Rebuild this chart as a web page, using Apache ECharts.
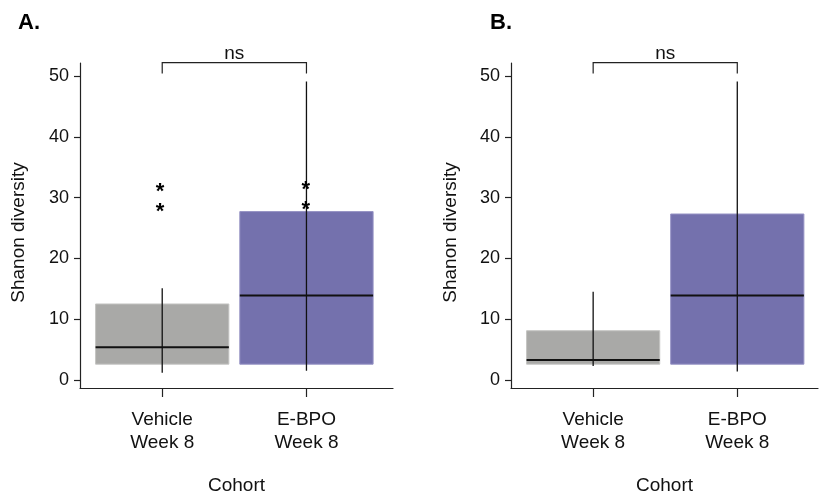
<!DOCTYPE html>
<html>
<head>
<meta charset="utf-8">
<script src="https://cdn.jsdelivr.net/npm/echarts@6/dist/echarts.min.js"></script>
<style>html,body{margin:0;padding:0;background:#fff}#c{width:820px;height:496px}</style>
</head>
<body>
<div id="c"></div>
<script>
// ---- data ----
const categories = ['Vehicle\nWeek 8', 'E-BPO\nWeek 8'];
const yTicks = [0, 10, 20, 30, 40, 50];
const catPos = [1, 2];
// [position, whiskerLow, q1, median, q3, whiskerHigh]
const panelA_box = [[1, 1.2, 2.6, 5.4, 12.5, 15.1], [2, 1.5, 2.6, 13.9, 27.7, 49.1]];
const panelA_outliers = [[0.985, 31.7], [0.985, 28.5], [1.995, 32.1], [1.995, 28.8]];
const panelB_box = [[1, 2.3, 2.6, 3.3, 8.1, 14.5], [2, 1.4, 2.6, 13.9, 27.3, 49.1]];
const panelB_outliers = [];
// [x1, x2, yTop, yDrop]
const bracketA = [[1, 2, 52.2, 50.4]];
const bracketB = [[1, 2, 52.2, 50.4]];
const sigLabel = 'ns';
const boxColors = ['#a9a9a7', '#7471ad'];
const boxStroke = ['#c4c4c2', '#9592c4'];

const FONT = '"Liberation Sans", Arial, Helvetica, sans-serif';

const chart = echarts.init(document.getElementById('c'), null, {renderer: 'canvas'});

function boxRender(params, api) {
  const x = api.value(0);
  const wl = api.value(1), q1 = api.value(2), med = api.value(3), q3 = api.value(4), wh = api.value(5);
  const half = api.size([0.462, 0])[0];
  const c = api.coord([x, q3]);
  const b = api.coord([x, q1]);
  const m = api.coord([x, med]);
  const lo = api.coord([x, wl]);
  const hi = api.coord([x, wh]);
  const idx = params.dataIndex;
  return {
    type: 'group',
    children: [
      {type: 'rect', shape: {x: c[0] - half, y: c[1], width: half * 2, height: b[1] - c[1]},
       style: {fill: boxColors[idx], stroke: boxStroke[idx], lineWidth: 1}},
      {type: 'line', shape: {x1: hi[0], y1: hi[1], x2: lo[0], y2: lo[1]},
       style: {stroke: '#111', lineWidth: 1.3}},
      {type: 'line', shape: {x1: m[0] - half, y1: m[1], x2: m[0] + half, y2: m[1]},
       style: {stroke: '#111', lineWidth: 2}}
    ]
  };
}

function starRender(params, api) {
  const p = api.coord([api.value(0), api.value(1)]);
  return {type: 'text', x: p[0], y: p[1] + 5,
    style: {text: '*', fill: '#000', font: 'bold 22px ' + FONT, align: 'center', verticalAlign: 'middle'}};
}

function bracketRender(params, api) {
  const l = api.coord([api.value(0), api.value(2)]);
  const r = api.coord([api.value(1), api.value(2)]);
  const ld = api.coord([api.value(0), api.value(3)]);
  const rd = api.coord([api.value(1), api.value(3)]);
  return {
    type: 'group',
    children: [
      {type: 'polyline', shape: {points: [[ld[0], ld[1]], [l[0], l[1]], [r[0], r[1]], [rd[0], rd[1]]]},
       style: {stroke: '#222', lineWidth: 1.2, fill: null}},
      {type: 'text', x: (l[0] + r[0]) / 2, y: l[1] - 9,
       style: {text: sigLabel, fill: '#111', font: '19px ' + FONT, align: 'center', verticalAlign: 'middle'}}
    ]
  };
}

function xAxisCfg(gi, max) {
  return {
    type: 'value', gridIndex: gi, min: 0.43, max: max,
    name: 'Cohort', nameLocation: 'middle', nameGap: 88,
    nameTextStyle: {fontFamily: FONT, fontSize: 19, color: '#111'},
    axisLine: {onZero: false, lineStyle: {color: '#222', width: 1.2}},
    axisTick: {customValues: catPos, length: 9, lineStyle: {color: '#222', width: 1.2}},
    axisLabel: {customValues: catPos, margin: 20, fontFamily: FONT, fontSize: 19, color: '#111', lineHeight: 23,
      formatter: v => categories[Math.round(v) - 1] || ''},
    splitLine: {show: false}
  };
}
function yAxisCfg(gi, gap) {
  return {
    type: 'value', gridIndex: gi, min: -1.32, max: 52.14,
    name: 'Shanon diversity', nameLocation: 'middle', nameGap: gap, nameRotate: 90,
    nameTextStyle: {fontFamily: FONT, fontSize: 19, color: '#111', padding: [0, 14, 0, 0]},
    axisLine: {show: true, onZero: false, lineStyle: {color: '#222', width: 1.2}},
    axisTick: {show: true, customValues: yTicks, length: 6, lineStyle: {color: '#222', width: 1.2}},
    axisLabel: {customValues: yTicks, margin: 11, fontFamily: FONT, fontSize: 18, color: '#111'},
    splitLine: {show: false}
  };
}

chart.setOption({
  animation: false,
  backgroundColor: '#fff',
  title: [
    {text: 'A.', left: 13, top: 7, textStyle: {fontFamily: FONT, fontSize: 22, fontWeight: 'bold', color: '#000'}},
    {text: 'B.', left: 485, top: 7, textStyle: {fontFamily: FONT, fontSize: 22, fontWeight: 'bold', color: '#000'}}
  ],
  grid: [
    {left: 80, top: 63, width: 313, height: 325, outerBoundsMode: 'none', containLabel: false},
    {left: 511, top: 63, width: 307, height: 325, outerBoundsMode: 'none', containLabel: false}
  ],
  xAxis: [xAxisCfg(0, 2.6), xAxisCfg(1, 2.56)],
  yAxis: [yAxisCfg(0, 52), yAxisCfg(1, 51)],
  series: [
    {type: 'custom', xAxisIndex: 0, yAxisIndex: 0, renderItem: boxRender, data: panelA_box, clip: false},
    {type: 'custom', xAxisIndex: 0, yAxisIndex: 0, renderItem: starRender, data: panelA_outliers, clip: false, z: 5},
    {type: 'custom', xAxisIndex: 0, yAxisIndex: 0, renderItem: bracketRender, data: bracketA, clip: false},
    {type: 'custom', xAxisIndex: 1, yAxisIndex: 1, renderItem: boxRender, data: panelB_box, clip: false},
    {type: 'custom', xAxisIndex: 1, yAxisIndex: 1, renderItem: starRender, data: panelB_outliers, clip: false, z: 5},
    {type: 'custom', xAxisIndex: 1, yAxisIndex: 1, renderItem: bracketRender, data: bracketB, clip: false}
  ]
});
</script>
</body>
</html>
